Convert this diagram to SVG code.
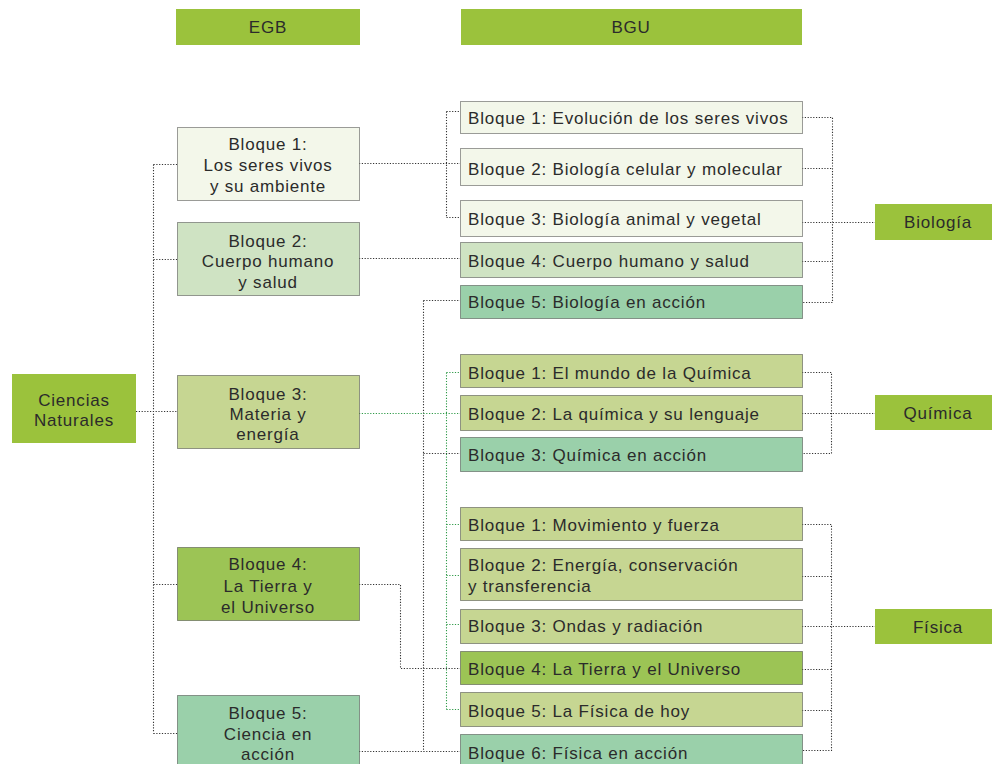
<svg xmlns="http://www.w3.org/2000/svg" width="992" height="764" viewBox="0 0 992 764">
<style>
text{font-family:"Liberation Sans",Arial,sans-serif;font-size:17px;letter-spacing:0.8px;fill:#2b2b2b}
.m{text-anchor:middle}
.hdr{fill:#9bc23c}
.box{stroke:#3a3a3a;stroke-width:1;stroke-dasharray:1 1}
.c1{fill:#f3f7ea}.c2{fill:#cfe3c3}.c3{fill:#c6d692}.c4{fill:#9cc455}.c5{fill:#9ad0aa}
.ln{fill:none;stroke:#333;stroke-width:1.1;stroke-dasharray:1.2 1.6}
.lg{fill:none;stroke:#2f9a48;stroke-width:1.1;stroke-dasharray:1.2 1.6}
</style>
<rect width="992" height="764" fill="#fff"/>
<g id="connectors">
<path class="ln" d="M136 411.5H177M153.5 164.5V733.5M153.5 164.5H177M153.5 259.5H177M153.5 584.5H177M153.5 733.5H177"/>
<path class="ln" d="M359 163.5H460M446.5 111.5V217.5M446.5 111.5H460M446.5 217.5H460"/>
<path class="ln" d="M359 258.5H460"/>
<path class="ln" d="M423.5 300.5V751.5M423.5 300.5H460M423.5 453.5H460M359 751.5H460"/>
<path class="ln" d="M359 584.5H400.5V668.5H460"/>
<path class="lg" d="M359 413.5H460M446.5 372.5V709.5M446.5 372.5H460M446.5 524.5H460M446.5 575.5H460M446.5 624.5H460M446.5 709.5H460"/>
<path class="ln" d="M802 117.5H832.5V302.5H802M802 168.5H832.5M802 222.5H875M802 261.5H832.5"/>
<path class="ln" d="M802 372.5H831.5V453.5H802M802 413.5H875"/>
<path class="ln" d="M802 524.5H831.5V750.5H802M802 576.5H831.5M802 626.5H875M802 669.5H831.5M802 710.5H831.5"/>
</g>
<g id="hdr-egb"><rect class="hdr" x="176" y="9" width="184" height="36"/><text class="m" x="268" y="33">EGB</text></g>
<g id="hdr-bgu"><rect class="hdr" x="461" y="9" width="341" height="36"/><text class="m" x="631" y="33">BGU</text></g>
<g id="ciencias"><rect class="hdr" x="12" y="374" width="124" height="69"/><text class="m" x="74" y="406">Ciencias</text><text class="m" x="74" y="426">Naturales</text></g>
<g id="biologia"><rect class="hdr" x="875" y="204" width="117" height="36"/><text class="m" x="938" y="228">Biología</text></g>
<g id="quimica"><rect class="hdr" x="875" y="395" width="117" height="35"/><text class="m" x="938" y="419">Química</text></g>
<g id="fisica"><rect class="hdr" x="875" y="609" width="117" height="35"/><text class="m" x="938" y="633">Física</text></g>
<g id="egb1"><rect class="box c1" x="177.5" y="127.5" width="182" height="73"/><text class="m" x="268" y="150">Bloque 1:</text><text class="m" x="268" y="171">Los seres vivos</text><text class="m" x="268" y="191.5">y su ambiente</text></g>
<g id="egb2"><rect class="box c2" x="177.5" y="222.5" width="182" height="73"/><text class="m" x="268" y="246.5">Bloque 2:</text><text class="m" x="268" y="267">Cuerpo humano</text><text class="m" x="268" y="288">y salud</text></g>
<g id="egb3"><rect class="box c3" x="177.5" y="375.5" width="182" height="73"/><text class="m" x="268" y="399.5">Bloque 3:</text><text class="m" x="268" y="419.5">Materia y</text><text class="m" x="268" y="440">energía</text></g>
<g id="egb4"><rect class="box c4" x="177.5" y="547.5" width="182" height="73"/><text class="m" x="268" y="570">Bloque 4:</text><text class="m" x="268" y="591.5">La Tierra y</text><text class="m" x="268" y="612.5">el Universo</text></g>
<g id="egb5"><rect class="box c5" x="177.5" y="695.5" width="182" height="75"/><text class="m" x="268" y="718.5">Bloque 5:</text><text class="m" x="268" y="739.5">Ciencia en</text><text class="m" x="268" y="760">acción</text></g>
<g id="bio1"><rect class="box c1" x="460.5" y="101.5" width="342" height="32"/><text x="468" y="123.5">Bloque 1: Evolución de los seres vivos</text></g>
<g id="bio2"><rect class="box c1" x="460.5" y="148.5" width="342" height="37"/><text x="468" y="175">Bloque 2: Biología celular y molecular</text></g>
<g id="bio3"><rect class="box c1" x="460.5" y="200.5" width="342" height="36"/><text x="468" y="224.5">Bloque 3: Biología animal y vegetal</text></g>
<g id="bio4"><rect class="box c2" x="460.5" y="242.5" width="342" height="35"/><text x="468" y="266.5">Bloque 4: Cuerpo humano y salud</text></g>
<g id="bio5"><rect class="box c5" x="460.5" y="285.5" width="342" height="33"/><text x="468" y="308">Bloque 5: Biología en acción</text></g>
<g id="qui1"><rect class="box c3" x="460.5" y="354.5" width="342" height="33"/><text x="468" y="378.5">Bloque 1: El mundo de la Química</text></g>
<g id="qui2"><rect class="box c3" x="460.5" y="395.5" width="342" height="35"/><text x="468" y="419.5">Bloque 2: La química y su lenguaje</text></g>
<g id="qui3"><rect class="box c5" x="460.5" y="437.5" width="342" height="34"/><text x="468" y="461">Bloque 3: Química en acción</text></g>
<g id="fis1"><rect class="box c3" x="460.5" y="507.5" width="342" height="33"/><text x="468" y="531">Bloque 1: Movimiento y fuerza</text></g>
<g id="fis2"><rect class="box c3" x="460.5" y="548.5" width="342" height="52"/><text x="468" y="571">Bloque 2: Energía, conservación</text><text x="468" y="592">y transferencia</text></g>
<g id="fis3"><rect class="box c3" x="460.5" y="609.5" width="342" height="34"/><text x="468" y="632">Bloque 3: Ondas y radiación</text></g>
<g id="fis4"><rect class="box c4" x="460.5" y="651.5" width="342" height="33"/><text x="468" y="675">Bloque 4: La Tierra y el Universo</text></g>
<g id="fis5"><rect class="box c3" x="460.5" y="692.5" width="342" height="34"/><text x="468" y="716.5">Bloque 5: La Física de hoy</text></g>
<g id="fis6"><rect class="box c5" x="460.5" y="734.5" width="342" height="36"/><text x="468" y="758.5">Bloque 6: Física en acción</text></g>
</svg>
